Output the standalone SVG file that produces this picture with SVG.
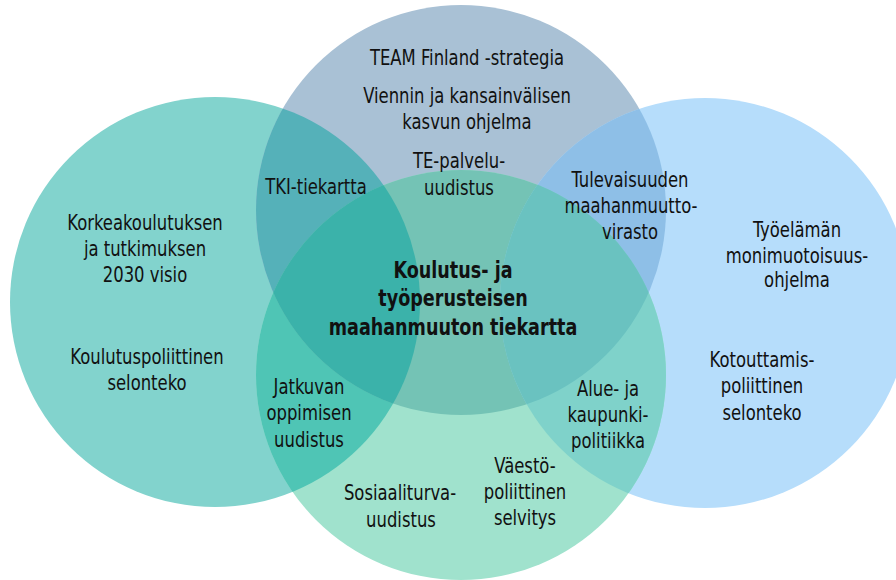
<svg xmlns="http://www.w3.org/2000/svg" width="896" height="580" viewBox="0 0 896 580">
<style>
text{font-family:"DejaVu Sans Condensed","Liberation Sans Narrow","Liberation Sans",sans-serif;font-size:21px;fill:#111;text-anchor:middle}
.b{font-weight:bold;font-size:23px}
</style>
<defs>
<circle id="cL" cx="215" cy="302" r="205"/>
<circle id="cT" cx="461" cy="210" r="205"/>
<circle id="cR" cx="705" cy="303" r="205"/>
<circle id="cB" cx="461" cy="375" r="205"/>
<clipPath id="kL"><use href="#cL"/></clipPath>
<clipPath id="kT"><use href="#cT"/></clipPath>
<clipPath id="kR"><use href="#cR"/></clipPath>
<clipPath id="kB"><use href="#cB"/></clipPath>
</defs>
<rect width="896" height="580" fill="#fff"/>
<g id="circles">
<use id="circle-left" href="#cL" fill="#82d3cd"/>
<use id="circle-top" href="#cT" fill="#a9c1d5"/>
<use id="circle-right" href="#cR" fill="#b6ddfb"/>
<use id="circle-bottom" href="#cB" fill="#a0e2cd"/>
<use href="#cL" fill="#55b1b9" clip-path="url(#kT)"/>
<use href="#cL" fill="#4fc5b5" clip-path="url(#kB)"/>
<use href="#cT" fill="#74c3b5" clip-path="url(#kB)"/>
<use href="#cT" fill="#8ebfe7" clip-path="url(#kR)"/>
<use href="#cR" fill="#7fd2ca" clip-path="url(#kB)"/>
<g clip-path="url(#kT)"><use href="#cL" fill="#3bb2aa" clip-path="url(#kB)"/></g>
<g clip-path="url(#kT)"><use href="#cR" fill="#6ac2c0" clip-path="url(#kB)"/></g>
</g>
<g id="labels">
<text transform="translate(467 65) scale(.87 1)">TEAM Finland -strategia</text>
<text transform="translate(467 103) scale(.87 1)">Viennin ja kansainvälisen</text>
<text transform="translate(467 129) scale(.87 1)">kasvun ohjelma</text>
<text transform="translate(459 168) scale(.87 1)">TE-palvelu-</text>
<text transform="translate(459 195) scale(.87 1)">uudistus</text>
<text transform="translate(316 194) scale(.87 1)">TKI-tiekartta</text>
<text transform="translate(145 230) scale(.87 1)">Korkeakoulutuksen</text>
<text transform="translate(145 256) scale(.87 1)">ja tutkimuksen</text>
<text transform="translate(145 282) scale(.87 1)">2030 visio</text>
<text transform="translate(147 364) scale(.87 1)">Koulutuspoliittinen</text>
<text transform="translate(147 390) scale(.87 1)">selonteko</text>
<text transform="translate(309 394) scale(.87 1)">Jatkuvan</text>
<text transform="translate(309 420) scale(.87 1)">oppimisen</text>
<text transform="translate(309 447) scale(.87 1)">uudistus</text>
<text transform="translate(400 500) scale(.87 1)">Sosiaaliturva-</text>
<text transform="translate(401 527) scale(.87 1)">uudistus</text>
<text class="b" transform="translate(453 278) scale(.85 1)">Koulutus- ja</text>
<text class="b" transform="translate(453 306) scale(.85 1)">työperusteisen</text>
<text class="b" transform="translate(453 335) scale(.85 1)">maahanmuuton tiekartta</text>
<text transform="translate(630 187) scale(.87 1)">Tulevaisuuden</text>
<text transform="translate(631 213) scale(.87 1)">maahanmuutto-</text>
<text transform="translate(630 239) scale(.87 1)">virasto</text>
<text transform="translate(797 237) scale(.87 1)">Työelämän</text>
<text transform="translate(797 263) scale(.87 1)">monimuotoisuus-</text>
<text transform="translate(797 287) scale(.87 1)">ohjelma</text>
<text transform="translate(762 367) scale(.87 1)">Kotouttamis-</text>
<text transform="translate(762 393) scale(.87 1)">poliittinen</text>
<text transform="translate(762 420) scale(.87 1)">selonteko</text>
<text transform="translate(608 396) scale(.87 1)">Alue- ja</text>
<text transform="translate(608 422) scale(.87 1)">kaupunki-</text>
<text transform="translate(608 448) scale(.87 1)">politiikka</text>
<text transform="translate(525 473) scale(.87 1)">Väestö-</text>
<text transform="translate(525 499) scale(.87 1)">poliittinen</text>
<text transform="translate(525 525) scale(.87 1)">selvitys</text>
</g>
</svg>
